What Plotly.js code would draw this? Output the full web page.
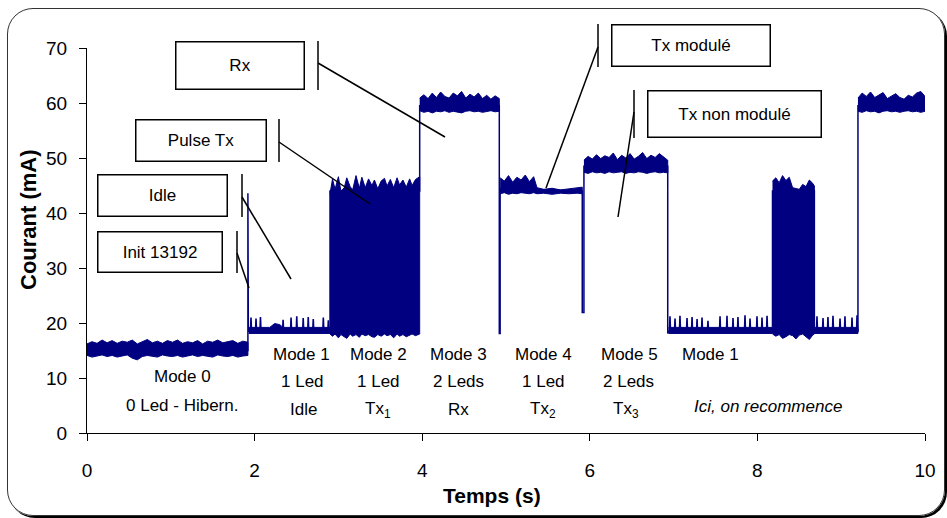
<!DOCTYPE html>
<html><head><meta charset="utf-8">
<script src="https://cdn.plot.ly/plotly-3.0.1.min.js"></script>
<style>
html,body{margin:0;padding:0;background:#fff;}
#wrap{position:relative;width:947px;height:518px;overflow:hidden;}
#chart{width:947px;height:518px;}
#frame{position:absolute;left:7px;top:8px;width:938px;height:508px;box-sizing:border-box;border:1.5px solid #333;border-radius:26px;pointer-events:none;box-shadow:2px 2px 0 #000;}
</style></head>
<body><div id="wrap"><div id="chart"></div><div id="frame"></div></div>
<script>
// ---------------- DATA ----------------
// Mode 0 : hibernation noise band
const m0T  = [0.00,0.06,0.12,0.18,0.24,0.30,0.36,0.42,0.48,0.54,0.60,0.66,0.72,0.78,0.84,0.90,0.96,1.02,1.08,1.14,1.20,1.26,1.32,1.38,1.44,1.50,1.56,1.62,1.68,1.74,1.80,1.86,1.92];
const m0Hi = [16.2,16.6,16.3,16.9,16.4,16.8,16.3,16.7,16.5,16.9,16.2,16.6,17.0,16.4,16.7,16.3,16.8,16.5,16.9,16.3,16.6,16.4,16.8,16.2,16.7,16.5,16.9,16.4,16.6,16.8,16.3,16.7,16.5];
const m0Lo = [14.1,13.8,14.0,14.2,13.9,14.1,13.8,14.0,14.2,13.6,13.3,13.9,14.1,14.0,13.8,14.2,14.0,13.9,14.1,13.8,14.0,14.2,13.9,14.1,14.0,13.8,14.2,14.0,13.9,14.1,13.8,14.0,14.1];

// Mode 1 (idle) baseline bands
const idle1T  = [1.93,2.18,2.24,2.30,2.34,2.90];
const idle1Hi = [19.2,19.2,19.9,19.7,19.2,19.2];
const idle1Lo = [18.1,18.1,18.1,18.1,18.1,18.1];
const idle2T  = [6.94,8.18];
const idle2Hi = [19.2,19.2];
const idle2Lo = [18.1,18.1];
const idle3T  = [8.68,9.20];
const idle3Hi = [19.2,19.2];
const idle3Lo = [18.1,18.1];

// Idle spikes (time, peak)
const spikeT = [1.957,2.017,2.070,2.340,2.435,2.503,2.580,2.640,2.700,2.820,2.880,
                6.957,7.017,7.076,7.160,7.220,7.280,7.339,7.410,7.554,7.637,7.709,7.768,7.852,7.912,7.995,8.055,8.115,
                8.711,8.783,8.842,8.902,8.986,9.045,9.129,9.189];
const spikeV = [21.0,20.8,21.1,20.6,21.0,21.2,20.9,21.1,20.7,21.0,20.5,
                21.2,20.8,21.3,20.9,21.1,20.7,21.0,20.4,21.2,21.3,20.9,21.1,21.4,20.8,21.2,21.0,21.3,
                21.2,20.9,21.1,21.3,20.8,21.2,21.0,21.4];
const spikeBase = 18.6;

// Mode 2 (Tx1) dense block
const b1T  = [2.90,2.93,2.96,3.00,3.03,3.07,3.10,3.14,3.17,3.21,3.25,3.28,3.32,3.36,3.40,3.43,3.47,3.51,3.55,3.58,3.62,3.66,3.70,3.73,3.77,3.81,3.85,3.88,3.92,3.97];
const b1Hi = [43.5,46.2,44.3,46.6,44.0,44.6,46.4,44.8,44.2,46.8,44.5,46.5,44.6,46.2,45.0,46.0,44.4,45.8,46.3,44.9,46.1,44.6,46.4,45.1,46.0,44.7,46.2,45.0,46.1,46.6];
const b1Lo = [18.0,17.6,18.0,17.3,17.9,17.5,17.2,18.0,17.6,17.9,17.4,18.0,17.7,17.9,17.5,17.4,17.9,17.6,18.0,17.7,17.9,17.3,18.0,17.6,17.9,17.5,17.8,18.0,17.7,18.0];

// Mode 3 (Rx)
const m3T  = [3.97,4.02,4.07,4.12,4.17,4.22,4.27,4.32,4.37,4.42,4.47,4.52,4.57,4.62,4.67,4.72,4.77,4.82,4.87,4.92];
const m3Hi = [60.9,61.5,60.8,61.8,61.0,62.0,61.2,60.9,61.8,61.3,62.1,60.9,61.6,61.1,61.8,60.8,61.4,60.7,61.3,60.8];
const m3Lo = [58.6,58.3,58.5,58.2,58.5,58.4,58.6,58.3,58.5,58.4,58.2,58.5,58.6,58.4,58.5,58.3,58.5,58.6,58.4,58.5];

// Mode 4 (Tx2, modulated then flat)
const m4T  = [4.93,4.98,5.03,5.08,5.13,5.18,5.23,5.28,5.33,5.37,5.45,5.55,5.65,5.75,5.85,5.91];
const m4Hi = [46.4,45.8,46.8,45.6,46.5,46.0,46.9,45.7,46.6,44.6,44.3,44.5,44.2,44.4,44.6,44.7];
const m4Lo = [43.5,43.7,43.4,43.6,43.5,43.7,43.6,43.5,43.7,43.5,43.6,43.4,43.6,43.5,43.6,43.5];

// Mode 5 (Tx3)
const m5T  = [5.93,5.98,6.03,6.08,6.13,6.18,6.23,6.28,6.33,6.38,6.43,6.48,6.53,6.58,6.63,6.68,6.73,6.78,6.83,6.88,6.93];
const m5Hi = [49.6,50.3,49.8,50.6,49.9,50.4,50.1,50.9,49.7,50.5,50.0,50.8,49.8,50.3,51.0,49.9,50.5,50.1,50.8,50.2,49.6];
const m5Lo = [47.4,47.2,47.5,47.3,47.4,47.2,47.5,47.3,47.4,47.5,47.2,47.4,47.3,47.5,47.4,47.2,47.4,47.5,47.3,47.4,47.3];

// Second Tx burst (idle cycle)
const b2T  = [8.18,8.22,8.26,8.30,8.34,8.38,8.42,8.46,8.50,8.54,8.58,8.62,8.66,8.68];
const b2Hi = [45.8,46.4,45.5,46.8,45.9,46.5,44.6,44.4,44.3,45.2,44.8,46.0,45.4,44.9];
const b2Lo = [18.0,17.6,17.9,17.2,17.5,17.9,17.7,17.1,17.8,18.0,17.5,17.0,17.8,18.0];

// Final Rx band
const fT  = [9.20,9.25,9.30,9.35,9.40,9.45,9.50,9.55,9.60,9.65,9.70,9.75,9.80,9.85,9.90,9.95,10.0];
const fHi = [60.9,61.8,61.2,62.0,61.0,61.5,61.9,60.8,61.3,61.7,61.0,60.7,61.4,61.1,61.8,62.1,61.2];
const fLo = [58.5,58.3,58.6,58.4,58.5,58.2,58.5,58.6,58.4,58.5,58.3,58.5,58.6,58.4,58.5,58.3,58.5];

// Mean trace with the transitions between modes
const stepT = [0.00,1.92,1.92,1.925,2.90,2.90,3.97,3.97,4.92,4.92,4.93,4.93,5.91,5.91,5.93,5.93,6.93,6.93,6.94,8.18,8.18,8.68,8.68,9.20,9.20,10.0];
const stepV = [15.0,15.0,43.6,18.5,18.5,44.0,44.0,59.5,59.5,18.1,18.1,44.5,44.0,21.9,21.9,48.5,48.5,18.1,18.5,18.5,44.0,44.0,18.5,18.5,59.5,59.5];

// Axis ticks
const xTicks = [0,2,4,6,8,10];
const yTicks = [0,10,20,30,40,50,60,70];

// ---------------- BUILD ----------------
const navy = '#000080';
function band(t, hi, lo) {
  return {type:'scatter', mode:'lines', x: t.concat(t.slice().reverse()), y: hi.concat(lo.slice().reverse()),
    fill:'toself', fillcolor:navy, line:{color:navy, width:1}, hoverinfo:'skip'};
}
const sx = [], sy = [];
spikeT.forEach((t,i) => { sx.push(t-0.006, t, t+0.006, null); sy.push(spikeBase, spikeV[i], spikeBase, null); });

const traces = [
  {type:'scatter', mode:'lines', x:stepT, y:stepV, line:{color:navy, width:1.5}, hoverinfo:'skip'},
  band(m0T, m0Hi, m0Lo),
  band(idle1T, idle1Hi, idle1Lo),
  band(idle2T, idle2Hi, idle2Lo),
  band(idle3T, idle3Hi, idle3Lo),
  band(b1T, b1Hi, b1Lo),
  band(m3T, m3Hi, m3Lo),
  band(m4T, m4Hi, m4Lo),
  band(m5T, m5Hi, m5Lo),
  band(b2T, b2Hi, b2Lo),
  band(fT, fHi, fLo),
  {type:'scatter', mode:'lines', x:sx, y:sy, line:{color:navy, width:1.6}, hoverinfo:'skip'}
];

// pixel -> paper helpers (layout placement only)
const W=947, H=518, L=87, R=22, T=48, B=85;
const pw = W-L-R, ph = H-T-B;
const PX = p => (p-L)/pw, PY = p => (H-B-p)/ph;

const FONT = '"Liberation Sans", Arial, Helvetica, sans-serif';
const annotations = [];
function label(text, cx, cy, extra) {
  annotations.push(Object.assign({text, xref:'paper', yref:'paper', x:PX(cx), y:PY(cy),
    xanchor:'center', yanchor:'middle', showarrow:false, font:{size:17, color:'#000', family:FONT}}, extra||{}));
}
function box(text, x0, x1, y0, y1) {
  annotations.push({text, xref:'paper', yref:'paper', x:PX((x0+x1)/2), y:PY((y0+y1)/2),
    xanchor:'center', yanchor:'middle', showarrow:false, width:x1-x0-3, height:y1-y0-3,
    borderpad:0, bordercolor:'#000', borderwidth:1.5, bgcolor:'#fff',
    font:{size:17, color:'#000', family:FONT}});
}
// mode labels
label('Mode 0', 182, 376); label('0 Led - Hibern.', 182, 405);
label('Mode 1', 301, 354); label('1 Led', 302, 381); label('Idle', 303, 409);
label('Mode 2', 378, 354); label('1 Led', 378, 381); label('Tx<sub>1</sub>', 378, 410);
label('Mode 3', 458, 354); label('2 Leds', 458, 381); label('Rx', 458, 409);
label('Mode 4', 543, 354); label('1 Led', 543, 381); label('Tx<sub>2</sub>', 543, 410);
label('Mode 5', 629, 354); label('2 Leds', 628, 381); label('Tx<sub>3</sub>', 626, 410);
label('Mode 1', 710, 354); label('<i>Ici, on recommence</i>', 768, 406);
// callout boxes
box('Rx', 175, 305, 41, 90);
box('Pulse Tx', 135, 267, 119, 162);
box('Idle', 97, 228, 174, 217);
box('Init 13192', 97, 223, 231, 273);
box('Tx modulé', 611, 771, 24, 67);
box('Tx non modulé', 647, 822, 90, 138);
// axis titles
label('<b>Temps (s)</b>', 492, 495, {font:{size:21, color:'#000', family:FONT}});
label('<b>Courant (mA)</b>', 28, 219, {textangle:-90, font:{size:22, color:'#000', family:FONT}});

function seg(x0,y0,x1,y1){ return {type:'line', xref:'paper', yref:'paper', x0:PX(x0), y0:PY(y0), x1:PX(x1), y1:PY(y1), line:{color:'#000', width:1.5}}; }
const shapes = [
  seg(318,41,318,90), seg(318,63,445,137),
  seg(279,119,279,162), seg(279,142,370,204),
  seg(242,174,242,217), seg(242,197,291,279),
  seg(237,231,237,273), seg(237,253,249,288),
  seg(598,24,598,67), seg(598,47,546,188),
  seg(634,90,634,138), seg(634,112,618,217)
];

const axisCommon = {showgrid:false, zeroline:false, showline:true, linecolor:'#000', linewidth:1,
  ticks:'outside', ticklen:7, tickwidth:1, tickcolor:'#000', fixedrange:true,
  tickfont:{size:19, color:'#000', family:FONT}};

const layout = {
  width:W, height:H, margin:{l:L, r:R, t:T, b:B}, showlegend:false,
  paper_bgcolor:'#fff', plot_bgcolor:'#fff', font:{family:FONT, color:'#000'},
  xaxis:Object.assign({}, axisCommon, {range:[0,10], tickvals:xTicks, ticktext:xTicks.map(String), ticklabelstandoff:13}),
  yaxis:Object.assign({}, axisCommon, {range:[0,70], tickvals:yTicks, ticktext:yTicks.map(String), ticklabelstandoff:8}),
  annotations, shapes
};
Plotly.newPlot('chart', traces, layout, {displayModeBar:false, staticPlot:true});
</script></body></html>
